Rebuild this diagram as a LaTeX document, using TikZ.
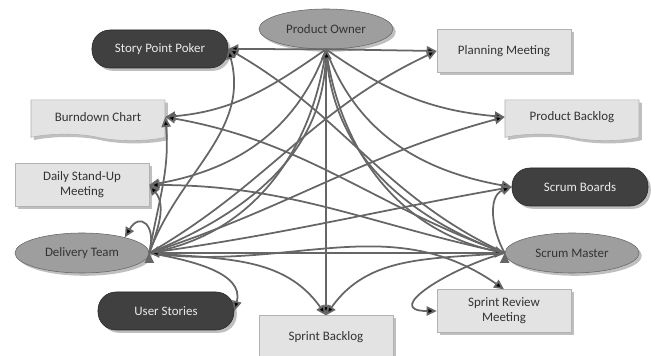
\documentclass[tikz,border=0pt]{standalone}
\usepackage{fontspec}
\setmainfont{Carlito}
\usetikzlibrary{
  shapes,
  arrows.meta,
  positioning,  % Function "of" (e.g. [below left=a and b of x])
  shadows,      % Style "drop shadow"
}
\definecolor{linegray}{gray}{0.4}
\definecolor{boxgray}{gray}{0.89}
\definecolor{toolgray}{gray}{0.25}
\definecolor{rolegray}{gray}{0.62}
\tikzset{
  font=\fontsize{9.2}{10.5}\selectfont,
  semithick,
  >={Triangle[length=2.5mm,width=2.3mm]},
  my shadow/.style={
    drop shadow={opacity=0.5,shadow xshift=0.7mm,shadow yshift=-0.7mm}
  },
  my role/.style={
    ellipse,
    draw=black!60,
    fill=rolegray,
    text=black!80,
    minimum width=3.35cm,
    minimum height=1cm,
    inner sep=0mm,
    my shadow
  },
  my tool/.style={
    rectangle,
    rounded corners=4.5mm,
    draw=black!85,
    fill=toolgray,
    text=white!92!black,
    minimum width=3.4cm,
    minimum height=0.95cm,
    inner sep=0mm,
    my shadow
  },
  my event/.style={
    rectangle,
    draw=black!30,
    fill=boxgray,
    text=black!80,
    align=center,
    minimum width=3.35cm,
    minimum height=1.07cm,
    inner sep=0mm,
    my shadow
  },
  my doc/.style={
    tape,
    tape bend top=none,
    tape bend bottom=out and in,
    tape bend height=1.6mm,
    draw=black!30,
    fill=boxgray,
    text=black!80,
    minimum width=3.35cm,
    minimum height=1.02cm,
    inner sep=0mm,
    my shadow
  },
  flow/.style={
    draw=linegray,
    line width=1.25pt,
    ->
  }
}

\begin{document}
\begin{tikzpicture}[on grid]
\useasboundingbox (-8.15,0.725) rectangle (8.125,-8.175);
\node[my role]  (po)                                  {Product Owner};
\node[my tool]  (spp) [below left=0.5 and 4.15 of po]  {Story Point Poker};
\node[my event] (pm)  [below right=0.55 and 4.45 of po]{Planning Meeting};
\node[my doc]   (bc)  [below left=2.2 and 5.7 of po]   {Burndown Chart};
\node[my doc]   (pb)  [below right=2.2 and 6.15 of po] {Product Backlog};
\node[my event] (dsu) [below left=1.7 and 0.4 of bc]   {Daily Stand-Up\\Meeting};
\node[my tool]  (sb)  [below right=1.75 and 0.2 of pb] {Scrum Boards};
\node[my role]  (dt)  [below=1.7 of dsu]               {Delivery Team};
\node[my role]  (sm)  [below left=1.65 and 0.2 of sb]  {Scrum Master};
\node[my tool]  (us)  [below right=1.45 and 2.1 of dt] {User Stories};
\node[my event] (sbl) [below=7.7 of po]                {Sprint Backlog};
\node[my event] (srm) [below left=1.45 and 1.7 of sm]  {Sprint Review\\Meeting};
% Product Owner
\path[flow] (po.south) edge                     (spp.east)
            (po.south) edge                     (pm.west)
            (po.south) edge[out=215,in=5]       (bc.east)
            (po.south) edge[out=325,in=175]     (pb.west)
            (po.south) edge[out=250,in=10]      (dsu.east)
            (po.south) edge[out=290,in=170]     (sb.west)
            (po.south) edge[out=262,in=12]      (dt.east)
            (po.south) edge[out=278,in=168]     (sm.west)
            (po.south) edge                     (sbl.north);
% Delivery Team
\path[flow] (dt.east)  edge[out=70,in=-75]      (spp.east)
            (dt.east)  edge[out=80,in=-85]      (bc.east)
            (dt.east)  edge[out=70,in=-50]      (dsu.east)
            (dt.east)  edge[out=75,in=60,looseness=2.6] (dt.20)
            (dt.east)  edge[out=-10,in=75]      (us.east)
            (dt.east)  edge[out=-5,in=125]      (sbl.north)
            (dt.east)  edge[out=-8,in=145]      (srm.north)
            (dt.east)  edge[<->]                (sm.west)
            (dt.east)  edge[out=22,in=268]      (po.south)
            (dt.east)  edge[out=30,in=205]      (pm.west)
            (dt.east)  edge[out=18,in=195]      (pb.west)
            (dt.east)  edge[out=8,in=190]       (sb.west);
% Scrum Master
\path[flow] (sm.west)  edge[out=120,in=200]     (sb.west)
            (sm.west)  edge[out=195,in=180,looseness=1.6] (srm.west)
            (sm.west)  edge[out=185,in=55]      (sbl.north)
            (sm.west)  edge[out=168,in=0]       (dsu.east)
            (sm.west)  edge[out=160,in=-10]     (bc.east)
            (sm.west)  edge[out=155,in=-30]     (spp.east)
            (sm.west)  edge[out=160,in=275]     (po.south);
\end{tikzpicture}
\end{document}
